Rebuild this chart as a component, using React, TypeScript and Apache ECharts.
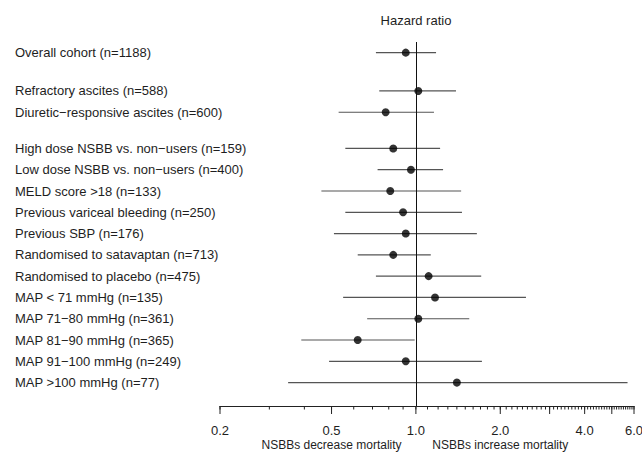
import React, { useEffect, useRef } from "react";
import * as echarts from "echarts";

const rowLabels = [
  "Overall cohort (n=1188)",
  "Refractory ascites (n=588)",
  "Diuretic\u2212responsive ascites (n=600)",
  "High dose NSBB vs. non\u2212users (n=159)",
  "Low dose NSBB vs. non\u2212users (n=400)",
  "MELD score >18 (n=133)",
  "Previous variceal bleeding (n=250)",
  "Previous SBP (n=176)",
  "Randomised to satavaptan (n=713)",
  "Randomised to placebo (n=475)",
  "MAP < 71 mmHg (n=135)",
  "MAP 71\u221280 mmHg (n=361)",
  "MAP 81\u221290 mmHg (n=365)",
  "MAP 91\u2212100 mmHg (n=249)",
  "MAP >100 mmHg (n=77)",
];
const hazardRatio = [0.92, 1.02, 0.78, 0.83, 0.96, 0.81, 0.9, 0.92, 0.83, 1.11, 1.17, 1.02, 0.62, 0.92, 1.4];
const ciLow = [0.72, 0.74, 0.53, 0.56, 0.73, 0.46, 0.56, 0.51, 0.62, 0.72, 0.55, 0.67, 0.39, 0.49, 0.35];
const ciHigh = [1.18, 1.39, 1.16, 1.22, 1.25, 1.45, 1.46, 1.65, 1.13, 1.71, 2.47, 1.55, 0.99, 1.72, 5.69];
const rowPos = [0, 1.8, 2.8, 4.5, 5.5, 6.5, 7.5, 8.5, 9.5, 10.5, 11.5, 12.5, 13.5, 14.5, 15.5];

const minorTicks = [
  0.2, 0.3, 0.4, 0.5, 0.6, 0.7, 0.8, 0.9, 1.0, 1.1, 1.2, 1.3, 1.4, 1.5, 1.6, 1.7, 1.8, 1.9,
  2.0, 2.1, 2.2, 2.3, 2.4, 2.5, 2.6, 2.7, 2.8, 2.9, 3.0, 3.1, 3.2, 3.3, 3.4, 3.5, 3.6, 3.7, 3.8, 3.9,
  4.0, 4.1, 4.2, 4.3, 4.4, 4.5, 4.6, 4.7, 4.8, 4.9, 5.0, 5.1, 5.2, 5.3, 5.4, 5.5, 5.6, 5.7, 5.8, 5.9, 6.0,
];
const majorTicks = [0.2, 0.5, 1, 2, 3, 4, 5, 6];
const tickLabelValues = [0.2, 0.5, 1, 2, 4, 6];
const tickLabels = ["0.2", "0.5", "1.0", "2.0", "4.0", "6.0"];
const sideLabelValues = [0.5, 2];
const sideLabels = ["NSBBs decrease mortality", "NSBBs increase mortality"];

const X_MIN = 0.2;
const X_MAX = 6;
const Y_MIN = -0.5;
const Y_MAX = 16.6;
const FONT = "'Liberation Sans', Arial, Helvetica, sans-serif";
const TEXT = "#1e1e1e";

export default function App() {
  const ref = useRef<HTMLDivElement>(null);
  useEffect(() => {
    if (!ref.current) return;
    const chart = echarts.init(ref.current, undefined, { renderer: "svg" });
    const option: any = {
      animation: false,
      backgroundColor: "#fff",
      grid: { left: 220, right: 8, top: 42, bottom: 46 },
      xAxis: {
        type: "log",
        logBase: 10,
        min: X_MIN,
        max: X_MAX,
        position: "bottom",
        axisLine: { show: true, onZero: false, lineStyle: { color: "#222", width: 1 } },
        axisTick: { show: false },
        axisLabel: { show: false },
        splitLine: { show: false },
      },
      yAxis: {
        type: "value",
        inverse: true,
        min: Y_MIN,
        max: Y_MAX,
        show: false,
        splitLine: { show: false },
      },
      graphic: [
        {
          type: "text",
          x: 416,
          y: 20,
          style: {
            text: "Hazard ratio",
            fill: TEXT,
            font: `13px ${FONT}`,
            align: "center",
            verticalAlign: "middle",
          },
        },
      ],
      series: [
        {
          type: "custom",
          name: "ci",
          data: ciLow.map((lo, i) => [lo, ciHigh[i], rowPos[i]]),
          encode: { x: [0, 1], y: 2 },
          renderItem: (params: any, api: any) => {
            const y = api.value(2);
            const a = api.coord([api.value(0), y]);
            const b = api.coord([api.value(1), y]);
            return {
              type: "line",
              shape: { x1: a[0], y1: a[1], x2: b[0], y2: b[1] },
              style: { stroke: "#555", lineWidth: 1.2 },
            };
          },
          z: 2,
        },
        {
          type: "scatter",
          name: "hr",
          data: hazardRatio.map((v, i) => [v, rowPos[i]]),
          symbol: "circle",
          symbolSize: 8,
          itemStyle: { color: "#000" },
          z: 4,
          markLine: {
            silent: true,
            symbol: ["none", "none"],
            label: { show: false },
            lineStyle: { color: "#111", type: "solid", width: 1 },
            data: [{ xAxis: 1 }],
          },
        },
        {
          type: "custom",
          name: "rowLabels",
          data: rowPos.map((y) => [X_MIN, y]),
          encode: { x: 0, y: 1 },
          renderItem: (params: any, api: any) => {
            const p = api.coord([api.value(0), api.value(1)]);
            return {
              type: "text",
              x: 15,
              y: p[1],
              style: {
                text: rowLabels[params.dataIndex],
                fill: TEXT,
                font: `13px ${FONT}`,
                align: "left",
                verticalAlign: "middle",
              },
            };
          },
        },
        {
          type: "custom",
          name: "minorTicks",
          data: minorTicks.map((v) => [v, Y_MAX]),
          encode: { x: 0, y: 1 },
          renderItem: (params: any, api: any) => {
            const p = api.coord([api.value(0), api.value(1)]);
            return {
              type: "line",
              shape: { x1: p[0], y1: p[1], x2: p[0], y2: p[1] + 3.5 },
              style: { stroke: "#222", lineWidth: 1 },
            };
          },
        },
        {
          type: "custom",
          name: "majorTicks",
          data: majorTicks.map((v) => [v, Y_MAX]),
          encode: { x: 0, y: 1 },
          renderItem: (params: any, api: any) => {
            const p = api.coord([api.value(0), api.value(1)]);
            return {
              type: "line",
              shape: { x1: p[0], y1: p[1], x2: p[0], y2: p[1] + 8 },
              style: { stroke: "#222", lineWidth: 1 },
            };
          },
        },
        {
          type: "custom",
          name: "tickLabels",
          data: tickLabelValues.map((v) => [v, Y_MAX]),
          encode: { x: 0, y: 1 },
          renderItem: (params: any, api: any) => {
            const p = api.coord([api.value(0), api.value(1)]);
            return {
              type: "text",
              x: p[0],
              y: p[1] + 24,
              style: {
                text: tickLabels[params.dataIndex],
                fill: TEXT,
                font: `13px ${FONT}`,
                align: "center",
                verticalAlign: "middle",
              },
            };
          },
        },
        {
          type: "custom",
          name: "sideLabels",
          data: sideLabelValues.map((v) => [v, Y_MAX]),
          encode: { x: 0, y: 1 },
          renderItem: (params: any, api: any) => {
            const p = api.coord([api.value(0), api.value(1)]);
            return {
              type: "text",
              x: p[0],
              y: p[1] + 39,
              style: {
                text: sideLabels[params.dataIndex],
                fill: TEXT,
                font: `12px ${FONT}`,
                align: "center",
                verticalAlign: "middle",
              },
            };
          },
        },
      ],
    };
    chart.setOption(option);
    return () => chart.dispose();
  }, []);
  return (
    <div
      ref={ref}
      style={{ position: "fixed", left: 0, top: 0, width: 642, height: 452, background: "#fff" }}
    />
  );
}
